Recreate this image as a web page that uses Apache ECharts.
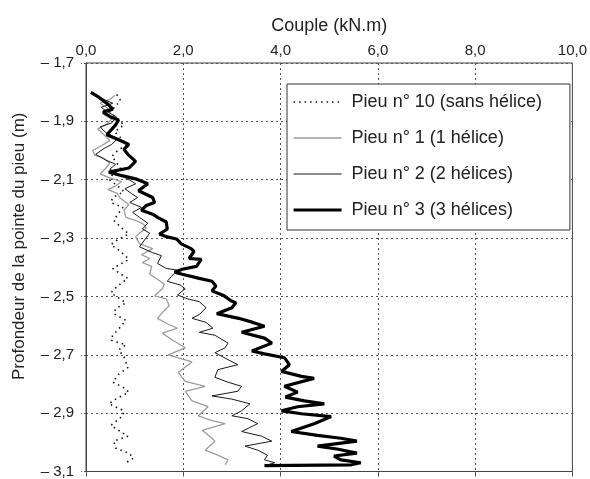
<!DOCTYPE html>
<html>
<head>
<meta charset="utf-8">
<script src="https://cdn.jsdelivr.net/npm/echarts@6/dist/echarts.min.js"></script>
<style>
html,body{margin:0;padding:0;background:#fff;}
#chart{width:590px;height:479px;}
</style>
</head>
<body>
<div id="chart"></div>
<script>
// ---- Data (couple in kN.m, depth in m) ----
var seriesNames = ['Pieu n° 10 (sans hélice)', 'Pieu n° 1 (1 hélice)', 'Pieu n° 2 (2 hélices)', 'Pieu n° 3 (3 hélices)'];

var pieu10Couple = [0.63,0.71,0.61,0.49,0.65,0.78,0.59,0.73,0.84,0.65,0.53,0.61,0.71,0.55,0.49,0.65,0.78,0.55,0.51,0.76,0.67,0.57,0.71,0.88,0.65,0.51,0.69,0.82,0.88,0.55,0.69,0.86,0.65,0.51,0.67,0.82,0.61,0.57,0.82,0.65,0.55,0.51,0.82,0.67,0.78,0.86,0.67,0.55,0.76,0.88,0.61,0.47,0.78,0.76,0.51,0.67,0.86,0.57,0.61,0.88,0.98,0.82];
var pieu10Depth = [-1.808,-1.828,-1.848,-1.868,-1.892,-1.912,-1.936,-1.959,-1.979,-2.000,-2.020,-2.037,-2.060,-2.080,-2.101,-2.121,-2.141,-2.161,-2.178,-2.195,-2.215,-2.239,-2.262,-2.286,-2.306,-2.323,-2.343,-2.363,-2.373,-2.404,-2.421,-2.438,-2.464,-2.488,-2.505,-2.522,-2.542,-2.559,-2.582,-2.616,-2.633,-2.650,-2.666,-2.683,-2.707,-2.744,-2.767,-2.794,-2.811,-2.828,-2.852,-2.868,-2.892,-2.909,-2.942,-2.959,-2.979,-2.996,-3.020,-3.037,-3.054,-3.070];

var pieu1Couple = [0.59,0.49,0.29,0.45,0.35,0.53,0.41,0.24,0.37,0.49,0.29,0.14,0.18,0.37,0.49,0.41,0.29,0.49,0.73,0.61,0.45,0.65,0.69,0.88,0.78,0.82,1.02,1.18,1.24,1.10,1.02,1.10,1.37,1.14,1.31,1.16,1.35,1.31,1.47,1.61,1.57,1.41,1.65,1.71,1.55,1.47,1.65,1.88,1.57,1.78,2.04,1.69,2.18,1.90,2.04,2.45,2.04,2.18,2.51,2.31,2.59,2.86,2.39,2.59,2.65,2.45,2.71,2.92,2.86];
var pieu1Depth = [-1.811,-1.825,-1.838,-1.855,-1.875,-1.892,-1.912,-1.926,-1.946,-1.966,-1.986,-2.000,-2.016,-2.027,-2.043,-2.060,-2.080,-2.094,-2.107,-2.121,-2.134,-2.148,-2.161,-2.185,-2.205,-2.229,-2.239,-2.252,-2.266,-2.283,-2.296,-2.320,-2.336,-2.357,-2.370,-2.384,-2.397,-2.424,-2.441,-2.458,-2.474,-2.498,-2.508,-2.532,-2.559,-2.575,-2.592,-2.609,-2.626,-2.650,-2.676,-2.700,-2.724,-2.761,-2.791,-2.808,-2.825,-2.858,-2.878,-2.909,-2.926,-2.936,-2.959,-2.986,-2.996,-3.027,-3.044,-3.060,-3.077];

var pieu2Couple = [0.20,0.37,0.55,0.31,0.45,0.63,0.53,0.29,0.41,0.65,0.53,0.37,0.20,0.41,0.61,0.49,0.65,0.90,1.02,0.80,0.94,1.06,0.90,1.14,0.96,1.10,1.27,1.16,1.31,1.22,1.10,1.37,1.55,1.47,1.65,1.88,1.76,1.67,1.94,2.04,1.88,2.08,2.33,2.47,2.33,2.18,2.47,2.61,2.33,2.65,2.92,2.86,2.65,3.12,2.71,2.65,2.92,3.20,3.12,2.59,3.00,3.37,3.20,3.00,3.33,3.53,3.20,3.61,3.82,3.27,3.53,3.73,3.67,3.88,3.67];
var pieu2Depth = [-1.811,-1.825,-1.838,-1.852,-1.868,-1.885,-1.905,-1.919,-1.939,-1.959,-1.979,-1.993,-2.013,-2.033,-2.047,-2.064,-2.080,-2.101,-2.114,-2.131,-2.148,-2.161,-2.178,-2.195,-2.212,-2.229,-2.249,-2.269,-2.283,-2.303,-2.330,-2.350,-2.360,-2.387,-2.404,-2.410,-2.431,-2.448,-2.461,-2.474,-2.495,-2.508,-2.518,-2.539,-2.562,-2.575,-2.589,-2.609,-2.623,-2.633,-2.660,-2.676,-2.693,-2.734,-2.751,-2.777,-2.794,-2.808,-2.825,-2.841,-2.852,-2.868,-2.892,-2.909,-2.919,-2.936,-2.963,-2.979,-2.996,-3.013,-3.027,-3.044,-3.060,-3.070,-3.080];

var pieu3Couple = [0.10,0.27,0.45,0.55,0.35,0.51,0.67,0.61,0.43,0.67,0.88,0.78,0.86,1.02,0.88,0.47,0.76,1.02,1.27,1.08,1.10,1.37,1.41,1.24,1.14,1.37,1.47,1.65,1.67,1.51,1.67,1.86,1.96,2.16,2.22,2.12,2.37,2.27,1.98,1.82,1.98,2.33,2.59,2.67,2.59,2.84,2.98,3.08,3.00,2.69,3.14,3.43,3.67,3.20,3.67,3.82,3.41,3.67,4.08,4.18,4.02,4.43,4.69,4.08,4.35,4.10,4.49,4.90,4.35,4.02,4.43,5.04,4.69,4.22,4.76,5.24,5.57,4.76,5.16,5.57,5.10,5.24,5.65,5.45,3.67];
var pieu3Depth = [-1.801,-1.818,-1.841,-1.858,-1.868,-1.885,-1.895,-1.912,-1.946,-1.963,-1.979,-1.996,-2.013,-2.037,-2.060,-2.074,-2.087,-2.097,-2.114,-2.138,-2.144,-2.161,-2.178,-2.188,-2.205,-2.218,-2.229,-2.245,-2.269,-2.286,-2.296,-2.303,-2.320,-2.336,-2.346,-2.370,-2.373,-2.397,-2.407,-2.417,-2.424,-2.438,-2.448,-2.464,-2.481,-2.498,-2.515,-2.522,-2.539,-2.559,-2.575,-2.589,-2.602,-2.623,-2.643,-2.660,-2.687,-2.697,-2.710,-2.734,-2.757,-2.774,-2.781,-2.808,-2.828,-2.845,-2.858,-2.868,-2.878,-2.892,-2.902,-2.912,-2.936,-2.963,-2.976,-2.986,-2.996,-3.013,-3.023,-3.037,-3.047,-3.060,-3.070,-3.077,-3.080];

var xTickLabels = ['0,0', '2,0', '4,0', '6,0', '8,0', '10,0'];
var yTickLabels = ['\u2013 3,1', '\u2013 2,9', '\u2013 2,7', '\u2013 2,5', '\u2013 2,3', '\u2013 2,1', '\u2013 1,9', '\u2013 1,7'];

// depth axis is shifted so that its minimum (-3.1) sits at 0 and ticks start there
var DEPTH_SHIFT = 3.1;
function pairs(xs, ds) {
  return xs.map(function (x, i) { return [x, +(ds[i] + DEPTH_SHIFT).toFixed(4)]; });
}

var FONT = 'Liberation Sans, Arial, sans-serif';
var chart = echarts.init(document.getElementById('chart'), null, {renderer: 'canvas'});

var styles = [
  {color: '#111', width: 1.6, type: [1.5, 4]},
  {color: '#9c9c9c', width: 1.3, type: 'solid'},
  {color: '#1a1a1a', width: 1, type: 'solid'},
  {color: '#000', width: 3.2, type: 'solid'}
];
var dataSets = [
  pairs(pieu10Couple, pieu10Depth),
  pairs(pieu1Couple, pieu1Depth),
  pairs(pieu2Couple, pieu2Depth),
  pairs(pieu3Couple, pieu3Depth)
];

chart.setOption({
  animation: false,
  backgroundColor: '#fff',
  textStyle: {fontFamily: FONT},
  grid: {left: 86, right: 15, top: 63, bottom: 3, show: true, borderColor: '#444', borderWidth: 1, containLabel: false},
  legend: {
    orient: 'vertical',
    left: 287, top: 84,
    padding: [9, 28, 11, 5],
    itemGap: 18,
    itemWidth: 48, itemHeight: 14,
    backgroundColor: '#fff',
    borderColor: '#333', borderWidth: 1,
    itemStyle: {opacity: 0},
    lineStyle: {width: 'inherit', type: 'inherit', color: 'inherit'},
    textStyle: {fontSize: 18, color: '#222', fontFamily: FONT, padding: [0, 0, 0, 5]},
    data: seriesNames
  },
  xAxis: {
    type: 'value', position: 'top', min: 0, max: 10, interval: 2,
    name: 'Couple (kN.m)', nameLocation: 'middle', nameGap: 28,
    nameTextStyle: {fontSize: 18, color: '#222', fontFamily: FONT},
    axisLine: {show: true, lineStyle: {color: '#444', width: 1}},
    axisTick: {show: true, inside: true, length: 5, lineStyle: {color: '#555'}},
    axisLabel: {fontSize: 15, color: '#222', margin: 5, fontFamily: FONT,
      formatter: function (v) { return xTickLabels[Math.round(v / 2)]; }},
    splitLine: {show: true, lineStyle: {color: '#555', width: 1, type: [2, 3]}}
  },
  yAxis: {
    type: 'value', min: 0, max: 1.4, interval: 0.2,
    name: 'Profondeur de la pointe du pieu (m)', nameLocation: 'middle', nameGap: 58,
    nameTextStyle: {fontSize: 17, color: '#222', fontFamily: FONT, padding: [0, 0, 0, 42]},
    axisLine: {show: true, lineStyle: {color: '#444', width: 1}},
    axisTick: {show: true, length: 5, lineStyle: {color: '#555', type: [2, 2]}},
    axisLabel: {fontSize: 15, color: '#222', margin: 12, fontFamily: FONT,
      formatter: function (v) { return yTickLabels[Math.round(v / 0.2)]; }},
    splitLine: {show: true, lineStyle: {color: '#555', width: 1, type: [2, 3]}}
  },
  series: seriesNames.map(function (n, i) {
    return {
      name: n, type: 'line', data: dataSets[i], symbol: 'none', smooth: false,
      lineStyle: styles[i], itemStyle: {color: styles[i].color}, z: 2 + i,
      clip: true
    };
  })
});
</script>
</body>
</html>
